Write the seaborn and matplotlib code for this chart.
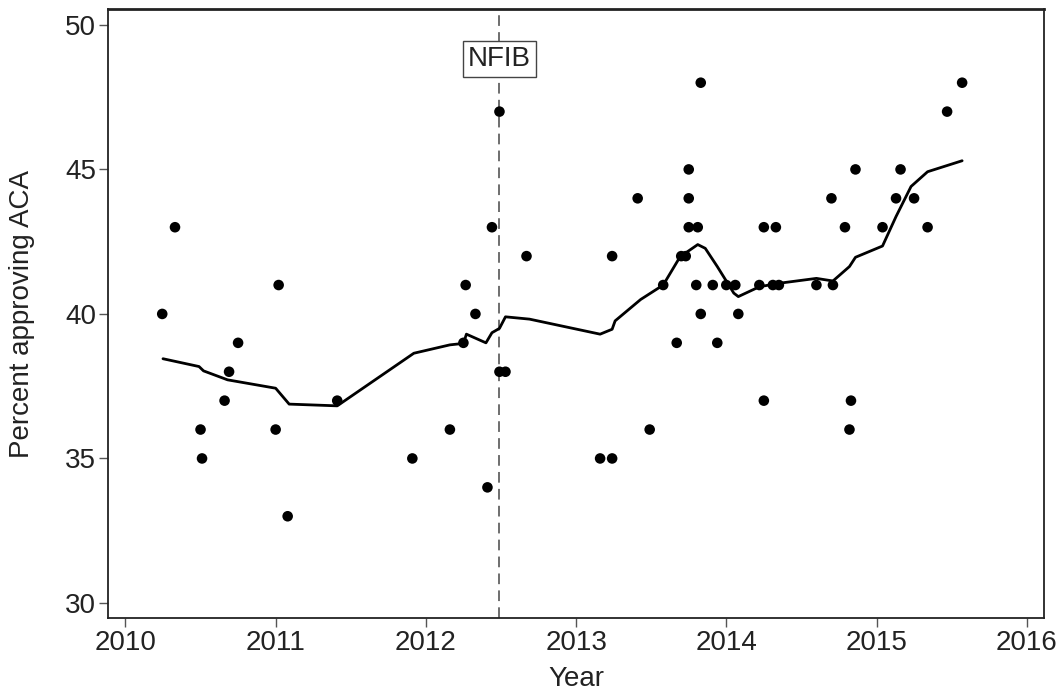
import matplotlib
matplotlib.use("Agg")
import matplotlib.pyplot as plt
import seaborn as sns
import pandas as pd

# Poll observations (decimal year, percent approving ACA)
poll_year = [2010.245, 2010.33, 2010.50, 2010.51, 2010.66, 2010.69, 2010.75,
             2011.00, 2011.02, 2011.08, 2011.41, 2011.91, 2012.16, 2012.25,
             2012.265, 2012.33, 2012.41, 2012.44, 2012.49, 2012.49, 2012.53,
             2012.67, 2013.16, 2013.24, 2013.24, 2013.41, 2013.49, 2013.58,
             2013.67, 2013.70, 2013.73, 2013.75, 2013.75, 2013.75, 2013.81,
             2013.80, 2013.83, 2013.83, 2013.91, 2013.94, 2014.00, 2014.06,
             2014.08, 2014.22, 2014.25, 2014.25, 2014.33, 2014.31, 2014.35,
             2014.60, 2014.70, 2014.71, 2014.79, 2014.82, 2014.83, 2014.86,
             2015.04, 2015.13, 2015.16, 2015.25, 2015.34, 2015.47, 2015.57]
poll_pct = [40, 43, 36, 35, 37, 38, 39,
            36, 41, 33, 37, 35, 36, 39,
            41, 40, 34, 43, 47, 38, 38,
            42, 35, 35, 42, 44, 36, 41,
            39, 42, 42, 45, 44, 43, 43,
            41, 48, 40, 41, 39, 41, 41,
            40, 41, 43, 37, 43, 41, 41,
            41, 44, 41, 43, 36, 37, 45,
            43, 44, 45, 44, 43, 47, 48]

# Smoothed trend line
trend_year = [2010.25, 2010.49, 2010.52, 2010.68, 2011.00, 2011.09, 2011.41,
              2011.92, 2012.16, 2012.25, 2012.27, 2012.40, 2012.44, 2012.49,
              2012.53, 2012.69, 2013.16, 2013.24, 2013.26, 2013.43, 2013.58,
              2013.68, 2013.71, 2013.81, 2013.86, 2013.94, 2014.05, 2014.08,
              2014.22, 2014.35, 2014.60, 2014.71, 2014.82, 2014.86, 2015.04,
              2015.13, 2015.23, 2015.34, 2015.57]
trend_pct = [38.45, 38.18, 38.03, 37.72, 37.43, 36.88, 36.82,
             38.64, 38.93, 38.98, 39.30, 39.00, 39.35, 39.50,
             39.90, 39.82, 39.30, 39.47, 39.76, 40.50, 41.00,
             41.87, 42.04, 42.40, 42.27, 41.64, 40.72, 40.60,
             40.94, 41.06, 41.23, 41.14, 41.64, 41.96, 42.35,
             43.37, 44.41, 44.92, 45.30]

event_year = 2012.49
event_label = "NFIB"
x_ticks = [2010, 2011, 2012, 2013, 2014, 2015, 2016]
y_ticks = [30, 35, 40, 45, 50]

sns.set_style("white")
plt.rcParams['font.family'] = ['Liberation Sans', 'DejaVu Sans']
fs = 20

polls = pd.DataFrame({"Year": poll_year, "Pct": poll_pct})
trend = pd.DataFrame({"Year": trend_year, "Pct": trend_pct})

fig = plt.figure(figsize=(10.6, 6.9), dpi=100)
ax = fig.add_axes([108/1060, 1-618/690, (1044-108)/1060, (618-9)/690])

sns.scatterplot(data=polls, x="Year", y="Pct", ax=ax, color="black",
                s=58, edgecolor="none", zorder=3)
sns.lineplot(data=trend, x="Year", y="Pct", ax=ax, color="black",
             linewidth=2.0, estimator=None, sort=False, zorder=4)

ax.axvline(event_year, color="#6e6e6e", linewidth=1.4,
           linestyle=(0, (5.5, 3.2)), zorder=2)
ax.text(event_year, 48.83, event_label, ha="center", va="center",
        fontsize=fs, color="#222222", zorder=5,
        bbox=dict(boxstyle="square,pad=0.18", facecolor="white",
                  edgecolor="#444444", linewidth=1.0))

ax.set_xlim(2009.884, 2016.115)
ax.set_ylim(29.48, 50.55)
ax.set_xticks(x_ticks)
ax.set_yticks(y_ticks)
ax.set_xlabel("Year", fontsize=fs, color="#222222", labelpad=7)
ax.set_ylabel("Percent approving ACA", fontsize=fs, color="#222222", labelpad=22)
ax.tick_params(axis="both", which="major", direction="out", length=6.5,
               width=1.0, color="#555555", labelsize=fs, labelcolor="#222222",
               pad=2, bottom=True, left=True)
for side in ["left", "right", "top", "bottom"]:
    ax.spines[side].set_visible(True)
    ax.spines[side].set_color("#222222")
    ax.spines[side].set_linewidth(1.3)
ax.spines["top"].set_linewidth(2.0)

fig.savefig("out.png", dpi=100)
